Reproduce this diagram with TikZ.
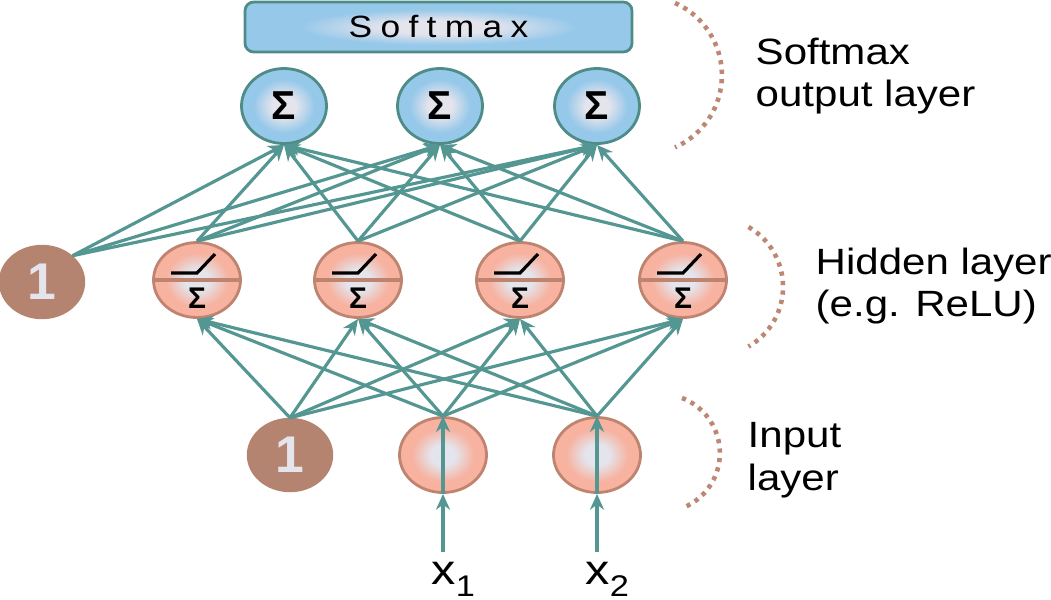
\documentclass[tikz,border=0pt]{standalone}
\usepackage{fontspec}
\setmainfont{Liberation Sans}
\newfontfamily\widefont[FakeStretch=1.15]{Liberation Sans}
\newfontfamily\spacedfont[FakeStretch=1.15, LetterSpace=27]{Liberation Sans}
\usepackage{tikz}
\usetikzlibrary{arrows.meta, shapes.geometric, positioning, calc}
\definecolor{LinkTeal}{RGB}{84,150,146}
\definecolor{SkyFill}{RGB}{150,200,234}
\definecolor{SkyEdge}{RGB}{78,140,136}
\definecolor{SalmonFill}{RGB}{247,178,160}
\definecolor{SalmonEdge}{RGB}{190,132,112}
\definecolor{BiasBrown}{RGB}{181,132,112}
\definecolor{CoreGray}{RGB}{228,228,236}
\definecolor{ArcBrown}{RGB}{190,135,115}
\pgfdeclareradialshading{skyball}{\pgfpoint{0bp}{0bp}}{color(0bp)=(CoreGray); color(7bp)=(CoreGray); color(18bp)=(SkyFill); color(50bp)=(SkyFill)}
\pgfdeclareradialshading{salmonball}{\pgfpoint{0bp}{0bp}}{color(0bp)=(CoreGray); color(7bp)=(CoreGray); color(18bp)=(SalmonFill); color(50bp)=(SalmonFill)}

\begin{document}
\begin{tikzpicture}[
    link/.style={-{Stealth[length=4.5pt,width=4pt]}, LinkTeal, line width=0.9pt},
    arcdots/.style={ArcBrown, line width=1.3pt, dash pattern=on 1.2pt off 1.5pt},
    layertext/.style={align=left, inner sep=0pt, anchor=north west, font=\fontsize{10.4}{12}\widefont},
    outnode/.style={ellipse, draw=SkyEdge, line width=0.8pt, shade, shading=skyball,
        minimum width=0.85cm, minimum height=0.75cm, inner sep=0pt, font=\fontsize{11.5}{12}\selectfont\bfseries},
    smaxbox/.style={rectangle, rounded corners=2.5pt, draw=SkyEdge, line width=0.8pt, shade, shading=skyball,
        minimum width=3.87cm, minimum height=0.5cm, inner sep=0pt, font=\fontsize{8.75}{9}\spacedfont},
    biasnode/.style={ellipse, fill=BiasBrown, draw=BiasBrown, text=CoreGray,
        minimum width=0.85cm, minimum height=0.73cm, inner sep=0pt, font=\fontsize{14.7}{15}\selectfont\bfseries},
    innode/.style={ellipse, draw=SalmonEdge, line width=0.8pt, shade, shading=salmonball,
        minimum width=0.87cm, minimum height=0.75cm, inner sep=0pt},
    hidnode/.style={innode, path picture={
        \draw[SalmonEdge, line width=0.9pt] (path picture bounding box.west) -- (path picture bounding box.east);
        \draw[black, line width=0.9pt] ($(path picture bounding box.center)+(-0.26,0.07)$) -- ++(0.26,0) -- ++(0.18,0.19);
        \node[inner sep=0pt, font=\fontsize{8.5}{9}\selectfont\bfseries] at ($(path picture bounding box.center)+(0,-0.18)$) {Σ};
    }}
]
\useasboundingbox (0,0) rectangle (10.51,5.99);

% softmax and output layer
\node[smaxbox] (smax) at (4.385,5.72) {Softmax};
\node[outnode] (o1) at (2.84,4.93) {Σ};
\node[outnode] (o2) at (4.40,4.93) {Σ};
\node[outnode] (o3) at (5.97,4.93) {Σ};

% hidden layer
\node[biasnode] (hb) at (0.42,3.17) {1};
\node[hidnode] (h1) at (1.97,3.19) {};
\node[hidnode] (h2) at (3.58,3.19) {};
\node[hidnode] (h3) at (5.20,3.19) {};
\node[hidnode] (h4) at (6.83,3.19) {};

% input layer
\node[biasnode] (ib) at (2.90,1.44) {1};
\node[innode] (i1) at (4.43,1.44) {};
\node[innode] (i2) at (5.97,1.44) {};
\coordinate (x1) at (4.43,0.47);
\coordinate (x2) at (5.97,0.47);
\node[anchor=base west, inner sep=0pt, font=\fontsize{12}{12}\widefont] (lx1) at (4.31,0.15) {x\raisebox{-3.6pt}{\fontsize{8.5}{9}\selectfont 1}};
\node[anchor=base west, inner sep=0pt, font=\fontsize{12}{12}\widefont] (lx2) at (5.85,0.15) {x\raisebox{-3.6pt}{\fontsize{8.5}{9}\selectfont 2}};

% connections
\foreach \s in {ib,i1,i2}
  \foreach \t in {h1,h2,h3,h4}
    \draw[link] (\s.north) -- (\t.south);
\foreach \t in {o1,o2,o3} {
  \draw[link] (hb.north east) -- (\t.south);
  \foreach \s in {h1,h2,h3,h4}
    \draw[link] (\s.north) -- (\t.south);
}
\draw[link] (x1) -- (i1.south);
\draw[link] (i1.south) -- (i1.north);
\draw[link] (x2) -- (i2.south);
\draw[link] (i2.south) -- (i2.north);

% layer brackets and names
\draw[arcdots] (6.75,5.96) arc[start angle=66, end angle=-66, radius=0.79];
\draw[arcdots] (7.485,3.72) arc[start angle=60, end angle=-60, radius=0.69];
\draw[arcdots] (6.82,2.01) arc[start angle=69, end angle=-69, radius=0.59];
\node[layertext] (tout) at (7.55,5.62) {Softmax\\output layer};
\node[layertext] (thid) at (8.15,3.52) {Hidden layer\\(e.g. ReLU)};
\node[layertext] (tin) at (7.47,1.77) {Input\\layer};
\end{tikzpicture}
\end{document}
